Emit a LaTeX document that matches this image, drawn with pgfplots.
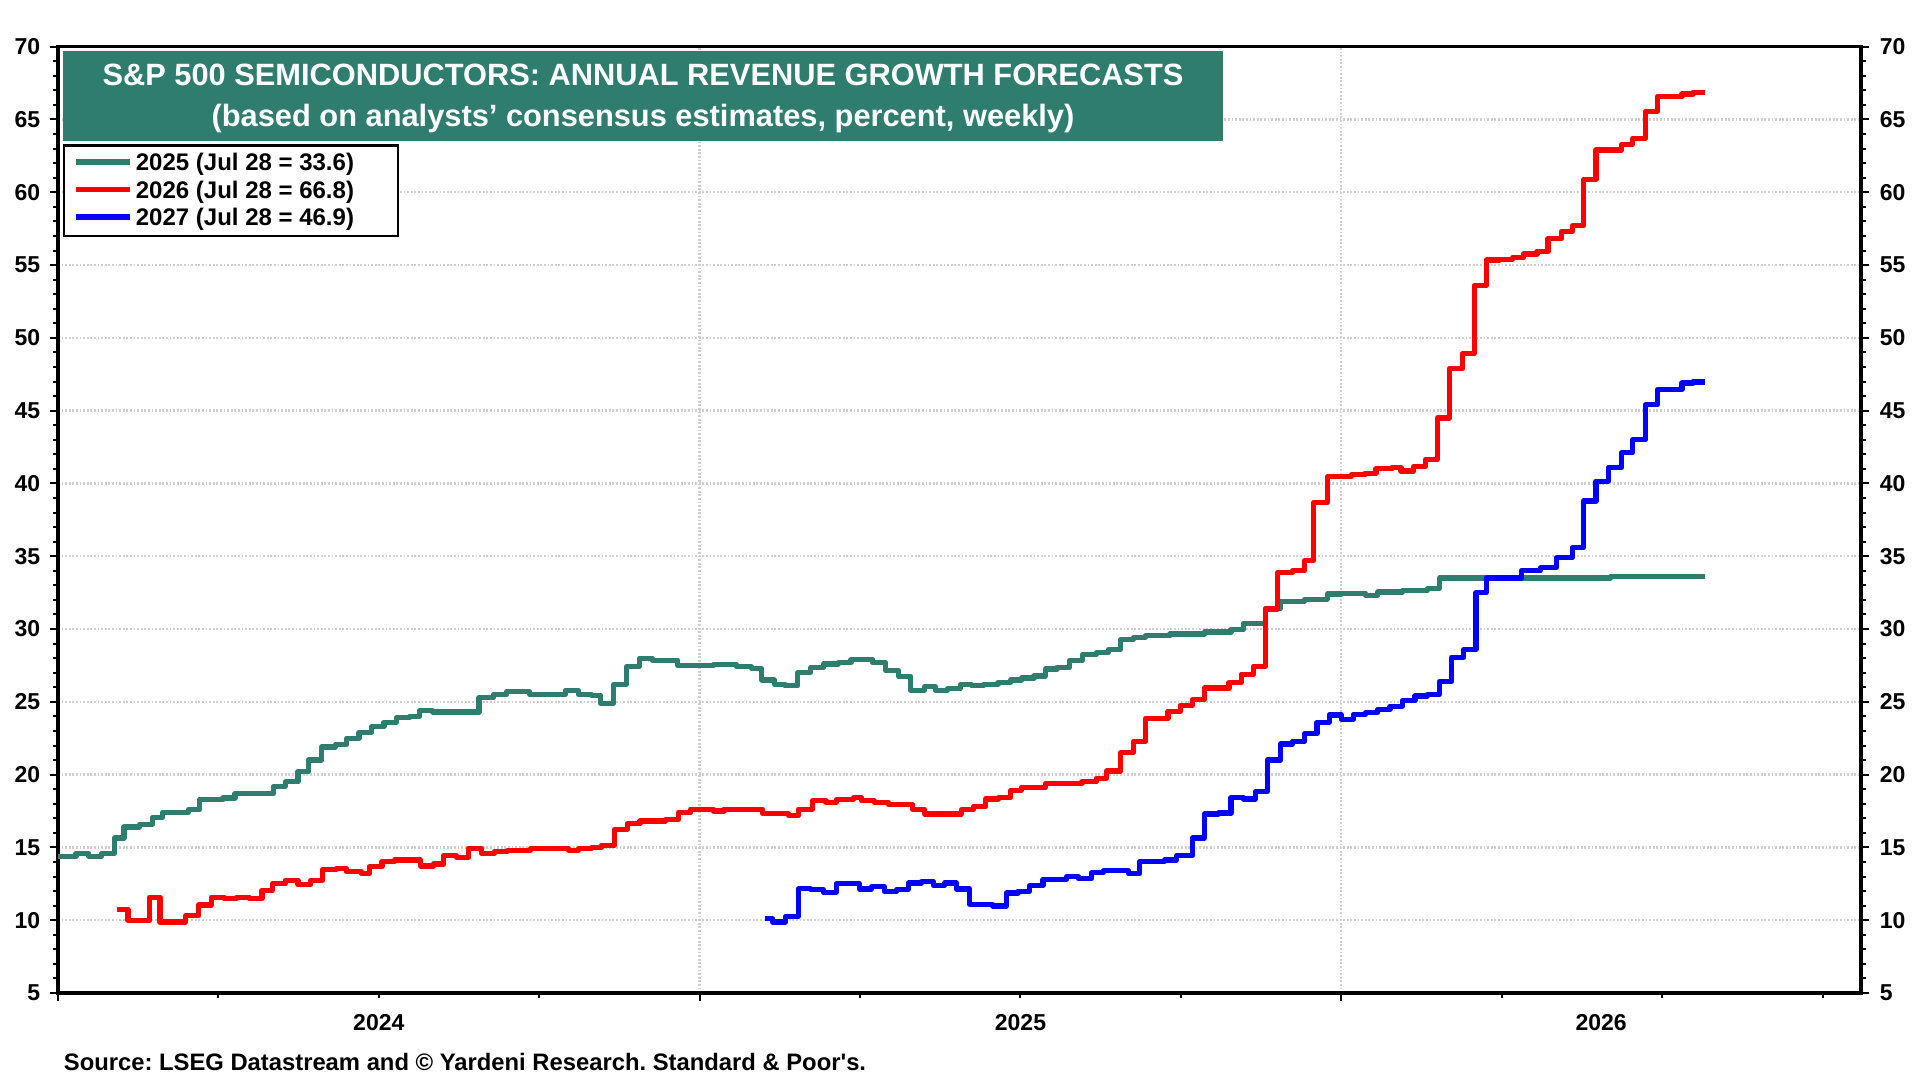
\documentclass[border=0pt]{standalone}
\usepackage{pgfplots}
\pgfplotsset{compat=1.18}
\usepackage{fontspec}
\setmainfont{Liberation Sans}
\newfontfamily\srcfont{Liberation Sans}[Ligatures=TeXOff]
\definecolor{ygreen}{RGB}{47,125,111}
\definecolor{gridgray}{RGB}{208,208,208}
\begin{document}
\begin{tikzpicture}
\useasboundingbox (-29pt,-43.5pt) rectangle (931pt,496.5pt);
\begin{axis}[
  at={(0pt,0pt)}, anchor=south west,
  scale only axis, width=901.5pt, height=473.15pt,
  xmin=2024, xmax=2026.81, ymin=5, ymax=70,
  axis line style={line width=1.7pt},
  xtick={2024,2025,2026}, xticklabels={},
  minor xtick={2024.25,2024.5,2024.75,2025.25,2025.5,2025.75,2026.25,2026.5,2026.75},
  extra x ticks={2024.5,2025.5,2026.405},
  extra x tick labels={2024,2025,2026},
  extra x tick style={grid=none, major tick length=0pt},
  ytick={5,10,...,70},
  minor y tick num=4,
  tick align=outside,
  xtick pos=left, ytick pos=left,
  major tick length=4.2pt, minor tick length=2.5pt,
  every tick/.style={line width=1pt, black},
  xmajorgrids, ymajorgrids,
  major grid style={gridgray, line width=1.2pt, dash pattern=on 0.9pt off 0.9pt},
  /pgf/number format/assume math mode=true,
  ticklabel style={font=\bfseries\fontsize{11.5}{13}\selectfont},
  yticklabel style={anchor=east, inner sep=0pt, xshift=-4.5pt},
  xticklabel style={anchor=north, inner sep=0pt, yshift=-10.5pt},
  legend style={at={(0.008153,0.8931)}, anchor=north west, draw=none, fill=none,
    inner sep=0pt, column sep=1.8pt, row sep=0pt,
    font=\bfseries\fontsize{12}{14}\selectfont,
    nodes={inner sep=0pt, text height=11.175pt, text depth=2.575pt}},
  legend cell align=left,
  legend image code/.code={\draw[#1, line width=2.6pt] (0pt,0pt) -- (27pt,0pt);},
  every axis plot/.append style={line width=2.6pt, line join=round},
]
\addplot[ygreen, const plot] coordinates {
(2024.000,14.4) (2024.028,14.6) (2024.048,14.4) (2024.068,14.6) (2024.088,15.65)
(2024.103,16.4) (2024.127,16.6) (2024.147,17.05) (2024.163,17.4) (2024.203,17.6)
(2024.221,18.3) (2024.257,18.4) (2024.276,18.7) (2024.336,19.2) (2024.354,19.5)
(2024.374,20.2) (2024.391,21.0) (2024.411,21.9) (2024.432,22.05) (2024.450,22.5)
(2024.469,22.9) (2024.489,23.3) (2024.508,23.6) (2024.528,23.9) (2024.548,24.0)
(2024.564,24.4) (2024.584,24.3) (2024.656,25.3) (2024.679,25.5) (2024.699,25.7)
(2024.735,25.5) (2024.791,25.8) (2024.811,25.5) (2024.831,25.45) (2024.846,24.9)
(2024.866,26.2) (2024.886,27.4) (2024.906,28.0) (2024.926,27.86) (2024.966,27.48)
(2025.021,27.57) (2025.057,27.4) (2025.081,27.3) (2025.097,26.5) (2025.117,26.2)
(2025.133,26.1) (2025.153,27.0) (2025.173,27.34) (2025.193,27.6) (2025.216,27.7)
(2025.236,27.9) (2025.270,27.7) (2025.290,27.15) (2025.310,26.76) (2025.329,25.8)
(2025.350,26.05) (2025.367,25.8) (2025.386,25.9) (2025.406,26.2) (2025.424,26.1)
(2025.443,26.2) (2025.465,26.32) (2025.485,26.5) (2025.502,26.63) (2025.521,26.78)
(2025.539,27.25) (2025.557,27.34) (2025.576,27.85) (2025.597,28.26) (2025.618,28.38)
(2025.637,28.6) (2025.656,29.27) (2025.676,29.43) (2025.695,29.54) (2025.733,29.66)
(2025.787,29.8) (2025.828,29.95) (2025.847,30.4) (2025.882,31.4) (2025.905,31.9)
(2025.943,32.05) (2025.978,32.4) (2026.000,32.46) (2026.038,32.3) (2026.057,32.55)
(2026.095,32.66) (2026.134,32.78) (2026.153,33.5) (2026.420,33.6) (2026.567,33.6)
};
\addplot[red, const plot] coordinates {
(2024.0915,10.72) (2024.109,10.0) (2024.143,11.58) (2024.159,9.88) (2024.199,10.3)
(2024.219,11.05) (2024.239,11.58) (2024.259,11.47) (2024.278,11.58) (2024.298,11.47)
(2024.318,12.05) (2024.334,12.5) (2024.354,12.74) (2024.374,12.44) (2024.394,12.74)
(2024.412,13.49) (2024.434,13.56) (2024.449,13.33) (2024.473,13.2) (2024.485,13.67)
(2024.505,14.02) (2024.525,14.14) (2024.565,13.72) (2024.585,13.86) (2024.601,14.44)
(2024.621,14.3) (2024.640,14.95) (2024.660,14.6) (2024.680,14.72) (2024.700,14.8)
(2024.736,14.9) (2024.796,14.8) (2024.811,14.9) (2024.831,15.0) (2024.847,15.14)
(2024.867,16.23) (2024.887,16.63) (2024.907,16.81) (2024.947,16.93) (2024.967,17.4)
(2024.986,17.63) (2025.022,17.5) (2025.038,17.63) (2025.098,17.33) (2025.138,17.2)
(2025.154,17.63) (2025.176,18.2) (2025.197,18.1) (2025.213,18.3) (2025.240,18.43)
(2025.252,18.2) (2025.272,18.1) (2025.294,17.93) (2025.332,17.6) (2025.351,17.3)
(2025.408,17.6) (2025.427,17.8) (2025.446,18.33) (2025.466,18.43) (2025.485,18.9)
(2025.501,19.13) (2025.539,19.4) (2025.596,19.5) (2025.618,19.75) (2025.634,20.25)
(2025.656,21.5) (2025.676,22.3) (2025.695,23.85) (2025.730,24.35) (2025.749,24.76)
(2025.768,25.15) (2025.787,25.95) (2025.825,26.3) (2025.844,26.9) (2025.863,27.45)
(2025.882,31.37) (2025.901,33.87) (2025.924,34.0) (2025.943,34.7) (2025.957,38.67)
(2025.978,40.46) (2025.999,40.5) (2026.016,40.6) (2026.037,40.7) (2026.054,41.0)
(2026.079,41.1) (2026.093,40.85) (2026.113,41.15) (2026.131,41.65) (2026.150,44.5)
(2026.169,47.9) (2026.189,48.9) (2026.207,53.6) (2026.226,55.35) (2026.246,55.4)
(2026.267,55.5) (2026.284,55.76) (2026.305,55.94) (2026.322,56.8) (2026.343,57.3)
(2026.360,57.7) (2026.378,60.9) (2026.397,62.9) (2026.437,63.3) (2026.454,63.7)
(2026.474,65.55) (2026.493,66.58) (2026.531,66.75) (2026.548,66.85) (2026.567,66.85)
};
\addplot[blue, const plot] coordinates {
(2025.102,10.1) (2025.114,9.88) (2025.134,10.26) (2025.154,12.16) (2025.173,12.1)
(2025.193,11.93) (2025.213,12.5) (2025.249,12.15) (2025.268,12.3) (2025.288,11.96)
(2025.307,12.1) (2025.325,12.55) (2025.346,12.66) (2025.364,12.38) (2025.382,12.55)
(2025.400,12.15) (2025.421,11.1) (2025.457,10.98) (2025.478,11.87) (2025.496,11.99)
(2025.514,12.38) (2025.535,12.8) (2025.572,13.0) (2025.590,12.85) (2025.611,13.25)
(2025.629,13.39) (2025.668,13.2) (2025.686,14.02) (2025.725,14.14) (2025.743,14.42)
(2025.768,15.65) (2025.787,17.3) (2025.809,17.36) (2025.828,18.43) (2025.847,18.33)
(2025.866,18.84) (2025.885,21.0) (2025.905,22.1) (2025.924,22.3) (2025.943,22.8)
(2025.962,23.6) (2025.981,24.1) (2026.000,23.8) (2026.019,24.15) (2026.038,24.26)
(2026.057,24.5) (2026.076,24.7) (2026.095,25.1) (2026.115,25.4) (2026.134,25.5)
(2026.153,26.4) (2026.172,28.06) (2026.191,28.6) (2026.210,32.5) (2026.226,33.5)
(2026.281,34.0) (2026.310,34.2) (2026.335,34.9) (2026.360,35.6) (2026.378,38.8)
(2026.397,40.16) (2026.416,41.1) (2026.437,42.1) (2026.454,43.0) (2026.474,45.4)
(2026.493,46.47) (2026.531,46.9) (2026.548,46.97) (2026.567,46.97)
};
\legend{2025 (Jul 28 = 33.6), 2026 (Jul 28 = 66.8), 2027 (Jul 28 = 46.9)}
\fill[ygreen] (rel axis cs:0.00277,0.90035) rectangle (rel axis cs:0.6462,0.99546);
\node[anchor=base, text=white, inner sep=0pt, font=\bfseries\fontsize{15.4}{17}\selectfont]
  at (rel axis cs:0.32446,0.95853) {S\&P 500 SEMICONDUCTORS: ANNUAL REVENUE GROWTH FORECASTS};
\node[anchor=base, text=white, inner sep=0pt, font=\bfseries\fontsize{15.4}{17}\selectfont]
  at (rel axis cs:0.32446,0.9152) {(based on analysts’ consensus estimates, percent, weekly)};
\filldraw[fill=white, draw=black, line width=1.2pt]
  (rel axis cs:0.003328,0.79996) rectangle (rel axis cs:0.18857,0.89538);
\end{axis}
\begin{axis}[
  at={(0pt,0pt)}, anchor=south west,
  scale only axis, width=901.5pt, height=473.15pt,
  xmin=2024, xmax=2026.81, ymin=5, ymax=70,
  axis x line=none, axis y line*=right,
  axis line style={line width=1.7pt},
  ytick={5,10,...,70}, minor y tick num=4,
  tick align=outside, ytick pos=right,
  major tick length=4.2pt, minor tick length=2.5pt,
  every tick/.style={line width=1pt, black},
  /pgf/number format/assume math mode=true,
  ticklabel style={font=\bfseries\fontsize{11.5}{13}\selectfont},
  yticklabel style={anchor=west, inner sep=0pt, xshift=5pt},
]
\end{axis}
\node[anchor=base west, inner sep=0pt, font=\srcfont\bfseries\fontsize{11.9}{14}\selectfont]
  at (2.75pt,-39pt) {\frenchspacing Source: LSEG Datastream and © Yardeni Research. Standard \& Poor's.};
\end{tikzpicture}
\end{document}
